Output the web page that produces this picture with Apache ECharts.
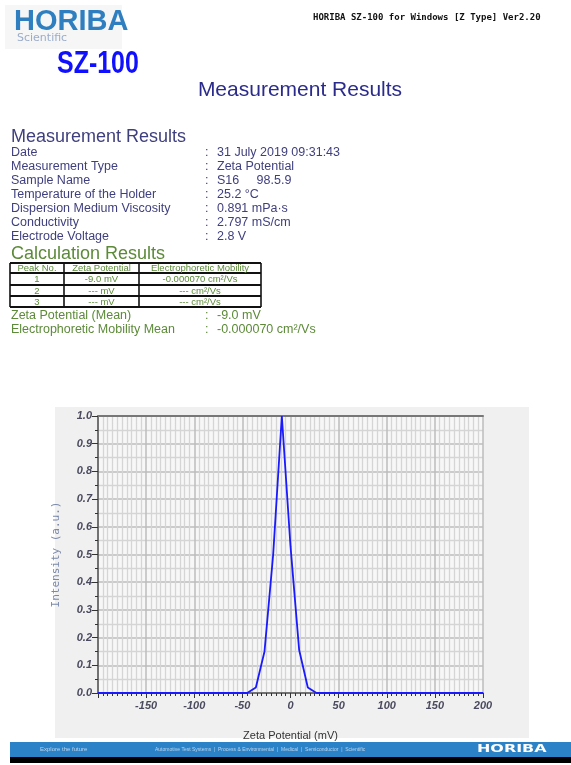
<!DOCTYPE html>
<html>
<head>
<meta charset="utf-8">
<script src="https://cdn.jsdelivr.net/npm/echarts@6/dist/echarts.min.js"></script>
<style>
html,body{margin:0;padding:0;background:#ffffff;}
#chart{width:571px;height:765px;}
</style>
</head>
<body>
<div id="chart"></div>
<script>
// ---- Data ----
const zetaPotential = [-200, -45, -36, -27, -18, -9, 0, 9, 18, 27, 200];
const intensity     = [0, 0, 0.02, 0.15, 0.5, 1.0, 0.53, 0.155, 0.02, 0, 0];

const infoLabels = ['Date', 'Measurement Type', 'Sample Name', 'Temperature of the Holder',
  'Dispersion Medium Viscosity', 'Conductivity', 'Electrode Voltage'];
const infoValues = ['31 July 2019 09:31:43', 'Zeta Potential', 'S16     98.5.9', '25.2 °C',
  '0.891 mPa·s', '2.797 mS/cm', '2.8 V'];

const tableHeader = ['Peak No.', 'Zeta Potential', 'Electrophoretic Mobility'];
const tableRows = [
  ['1', '-9.0 mV', '-0.000070 cm²/Vs'],
  ['2', '--- mV', '--- cm²/Vs'],
  ['3', '--- mV', '--- cm²/Vs']
];
const meanLabels = ['Zeta Potential (Mean)', 'Electrophoretic Mobility Mean'];
const meanValues = ['-9.0 mV', '-0.000070 cm²/Vs'];

const headerTitle = 'HORIBA SZ-100 for Windows [Z Type] Ver2.20';
const footerTexts = ['Explore the future', 'Automotive Test Systems  |  Process & Environmental  |  Medical  |  Semiconductor  |  Scientific'];

// ---- Build ----
const chart = echarts.init(document.getElementById('chart'), null, {renderer: 'canvas'});
const SANS = "'Liberation Sans', Arial, sans-serif";
const slate = '#3f3f7e';
const green = '#5c8a38';

const g = [];
function txt(x, y, text, font, fill, align, extra) {
  const el = {type: 'text', x: x, y: y, z: 10,
    style: Object.assign({text: text, font: font, fill: fill, align: align || 'left', verticalAlign: 'middle'}, extra || {})};
  g.push(el);
  return el;
}
// panel background for plot
g.push({type: 'rect', z: -10, shape: {x: 55, y: 407, width: 474, height: 331}, style: {fill: '#f0f0f0'}});
// logo area
g.push({type: 'rect', z: -10, shape: {x: 5, y: 5, width: 117, height: 44}, style: {fill: '#f6f6f6'}});
txt(14, 22, 'HORIBA', "bold 29px " + SANS, '#2f7fc0');
txt(17, 38, 'Scientific', "11px 'DejaVu Sans', sans-serif", '#9aaccb');
const sz = txt(57, 64, 'SZ-100', "bold 32px " + SANS, '#1010ff');
sz.scaleX = 0.78;
txt(313, 18, headerTitle, "bold 9px 'DejaVu Sans Mono', monospace", '#111111');
txt(300, 90, 'Measurement Results', "21px " + SANS, '#2b2b8c', 'center');

txt(11, 137, 'Measurement Results', "18px " + SANS, slate);
infoLabels.forEach(function (l, i) {
  const y = 153 + i * 14;
  txt(11, y, l, "12.5px " + SANS, slate);
  txt(205, y, ':', "12.5px " + SANS, slate);
  txt(217, y, infoValues[i], "12.5px " + SANS, slate);
});
txt(11, 254, 'Calculation Results', "18px " + SANS, green);

// table
const colX = [10, 64, 139, 261];
const rowY = [263, 273, 285, 296, 307];
rowY.forEach(function (y) {
  g.push({type: 'line', z: 10, shape: {x1: colX[0], y1: y, x2: colX[3], y2: y}, style: {stroke: '#111', lineWidth: 2}});
});
colX.forEach(function (x) {
  g.push({type: 'line', z: 10, shape: {x1: x, y1: rowY[0], x2: x, y2: rowY[4]}, style: {stroke: '#111', lineWidth: 1.6}});
});
const allRows = [tableHeader].concat(tableRows);
allRows.forEach(function (r, i) {
  const y = (rowY[i] + rowY[i + 1]) / 2 + 0.5;
  r.forEach(function (c, j) {
    txt((colX[j] + colX[j + 1]) / 2, y, c, "9.5px " + SANS, green, 'center');
  });
});
meanLabels.forEach(function (l, i) {
  const y = 316 + i * 14;
  txt(11, y, l, "12.5px " + SANS, green);
  txt(205, y, ':', "12.5px " + SANS, green);
  txt(217, y, meanValues[i], "12.5px " + SANS, green);
});

// footer
g.push({type: 'rect', z: 5, shape: {x: 10, y: 742, width: 561, height: 15}, style: {fill: '#2c82c6'}});
g.push({type: 'rect', z: 5, shape: {x: 10, y: 757, width: 561, height: 6}, style: {fill: '#000000'}});
txt(40, 749.5, footerTexts[0], "6px " + SANS, '#b9d6f0');
txt(155, 749.5, footerTexts[1], "5px " + SANS, '#b9d6f0');
const ft = txt(477, 749.5, 'HORIBA', "bold 11px 'DejaVu Sans', sans-serif", '#ffffff');
ft.scaleX = 1.45;

const option = {
  animation: false,
  backgroundColor: 'transparent',
  graphic: {elements: g},
  grid: {left: 98, top: 416, width: 385, height: 277, show: true, backgroundColor: '#f7f7f7', borderWidth: 0, outerBoundsMode: 'none'},
  xAxis: [{
    type: 'value', min: -200, max: 200, interval: 50, position: 'bottom',
    name: 'Zeta Potential (mV)', nameLocation: 'middle', nameGap: 37,
    nameTextStyle: {fontFamily: 'Liberation Sans', fontSize: 11, color: '#333333'},
    axisLine: {onZero: false, lineStyle: {color: '#555555', width: 1.5}},
    axisTick: {show: true, length: 5, lineStyle: {color: '#333333', width: 1}},
    minorTick: {show: true, splitNumber: 10, length: 3, lineStyle: {color: '#333333', width: 1}},
    axisLabel: {showMinLabel: false, margin: 7, fontFamily: 'Liberation Sans', fontStyle: 'italic', fontWeight: 'bold', fontSize: 11, color: '#4a4a5e'},
    splitLine: {show: true, lineStyle: {color: '#bcbcbc', width: 1.5}},
    minorSplitLine: {show: true, lineStyle: {color: '#d5d5d5', width: 1.3}}
  }, {
    type: 'value', min: -200, max: 200, interval: 50, position: 'top',
    axisLine: {show: true, onZero: false, lineStyle: {color: '#777777', width: 2}},
    axisTick: {show: false}, axisLabel: {show: false}, splitLine: {show: false}
  }],
  yAxis: {
    type: 'value', min: 0, max: 1, interval: 0.1,
    name: 'Intensity (a.u.)', nameLocation: 'middle', nameGap: 36, nameRotate: 90,
    nameTextStyle: {fontFamily: 'DejaVu Sans Mono', fontSize: 11, color: '#7a88aa'},
    axisLine: {show: true, onZero: false, lineStyle: {color: '#555555', width: 1.5}},
    axisTick: {show: true, length: 6, lineStyle: {color: '#333333', width: 1}},
    minorTick: {show: true, splitNumber: 2, length: 3, lineStyle: {color: '#333333', width: 1}},
    axisLabel: {margin: 6, formatter: function (v) { return v.toFixed(1); }, fontFamily: 'Liberation Sans', fontStyle: 'italic', fontWeight: 'bold', fontSize: 11, color: '#4a4a5e'},
    splitLine: {show: true, lineStyle: {color: '#bcbcbc', width: 1.5}},
    minorSplitLine: {show: true, lineStyle: {color: '#d5d5d5', width: 1.3}}
  },
  series: [{
    type: 'line', xAxisIndex: 0,
    data: zetaPotential.map(function (x, i) { return [x, intensity[i]]; }),
    showSymbol: false, symbol: 'none', z: 5,
    lineStyle: {color: '#1a1aff', width: 1.8},
    clip: false
  }]
};
chart.setOption(option);
</script>
</body>
</html>
